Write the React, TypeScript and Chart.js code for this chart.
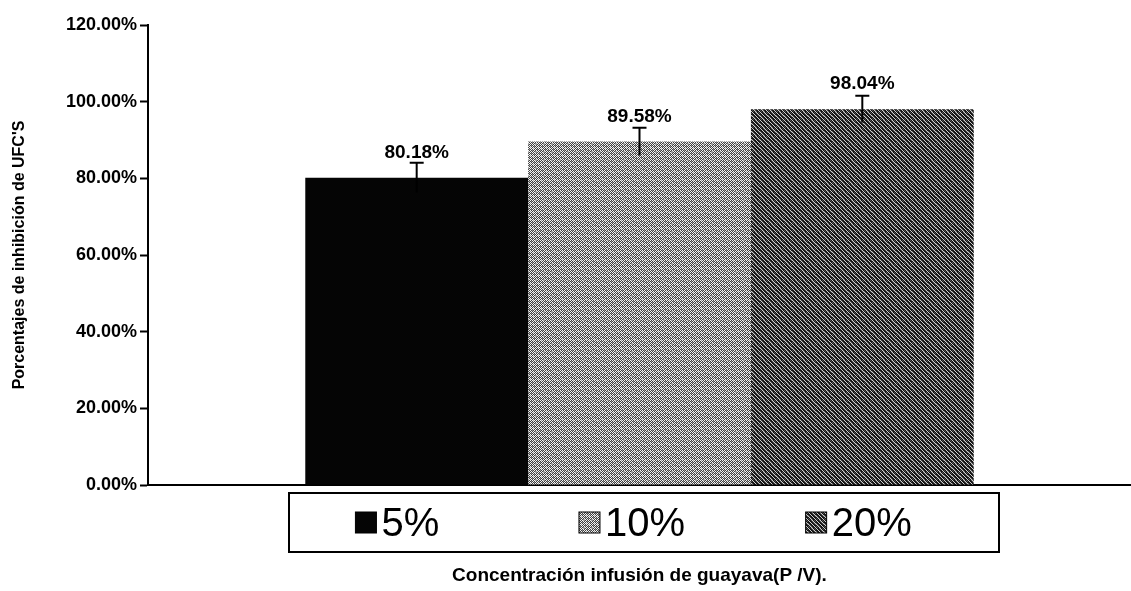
import React, { useEffect, useRef } from "react";
import { Chart, registerables } from "chart.js";

Chart.register(...registerables);

const seriesLabels = ["5%", "10%", "20%"];
const seriesValues = [80.18, 89.58, 98.04];
const seriesErrors = [3.9, 3.6, 3.5];
const yTicks = [0, 20, 40, 60, 80, 100, 120];
const xTitle = "Concentración infusión de guayava(P /V).";
const yTitle = "Porcentajes de inhibición de UFC'S";

const FONT = "'Liberation Sans', Arial, sans-serif";

function makePattern(kind: number): CanvasPattern | string {
  const tile = document.createElement("canvas");
  const n = 8;
  tile.width = n;
  tile.height = n;
  const c = tile.getContext("2d");
  if (!c) return "#888";
  if (kind === 0) {
    c.fillStyle = "#050505";
    c.fillRect(0, 0, n, n);
  } else if (kind === 1) {
    for (let y = 0; y < n; y++) {
      for (let x = 0; x < n; x++) {
        c.fillStyle = (x + y) % 2 === 0 ? "#f4f4f4" : "#404040";
        if ((x * 3 + y * 5) % 7 === 0) c.fillStyle = "#9a9a9a";
        c.fillRect(x, y, 1, 1);
      }
    }
  } else {
    for (let y = 0; y < n; y++) {
      for (let x = 0; x < n; x++) {
        const light = (x + y) % 2 === 0 && (x * 5 + y * 3) % 4 === 0;
        c.fillStyle = light ? "#cfcfcf" : (x + 2 * y) % 3 === 0 ? "#505050" : "#151515";
        c.fillRect(x, y, 1, 1);
      }
    }
  }
  const ctx2 = document.createElement("canvas").getContext("2d");
  const p = ctx2 ? ctx2.createPattern(tile, "repeat") : null;
  return p || "#888";
}

const overlayPlugin = {
  id: "overlay",
  afterDatasetsDraw(chart: any) {
    const { ctx, chartArea } = chart;
    const yScale = chart.scales.y;
    ctx.save();
    chart.data.datasets.forEach((ds: any, i: number) => {
      const meta = chart.getDatasetMeta(i);
      const bar = meta.data[0];
      if (!bar) return;
      const v = ds.data[0];
      const err = seriesErrors[i];
      const x = bar.x;
      const yTop = yScale.getPixelForValue(v + err);
      const yBot = yScale.getPixelForValue(v - err);
      ctx.strokeStyle = "#000";
      ctx.lineWidth = 2;
      ctx.beginPath();
      ctx.moveTo(x, yBot);
      ctx.lineTo(x, yTop);
      ctx.moveTo(x - 7, yTop);
      ctx.lineTo(x + 7, yTop);
      ctx.stroke();
      ctx.fillStyle = "#000";
      ctx.font = `bold 19px ${FONT}`;
      ctx.textAlign = "center";
      ctx.textBaseline = "middle";
      ctx.fillText(v.toFixed(2) + "%", x, bar.y - 25);
    });

    // legend box
    const left = chartArea.left + 141;
    const right = chartArea.left + 851;
    const top = chartArea.bottom + 8;
    const h = 59;
    ctx.lineWidth = 2;
    ctx.strokeStyle = "#000";
    ctx.fillStyle = "#fff";
    ctx.fillRect(left, top, right - left, h);
    ctx.strokeRect(left, top, right - left, h);
    const w = right - left;
    ctx.font = `40px ${FONT}`;
    ctx.textAlign = "left";
    ctx.textBaseline = "middle";
    const shifts = [-10, -12, -22];
    chart.data.datasets.forEach((ds: any, i: number) => {
      const cx = left + (w * (2 * i + 1)) / 6 + shifts[i];
      const tw = ctx.measureText(ds.label).width;
      const box = 21;
      const gap = 5;
      const total = box + gap + tw;
      const sx = cx - total / 2;
      const cy = top + h / 2;
      ctx.fillStyle = ds.backgroundColor;
      ctx.fillRect(sx, cy - box / 2, box, box);
      ctx.lineWidth = 1;
      ctx.strokeRect(sx, cy - box / 2, box, box);
      ctx.fillStyle = "#000";
      ctx.fillText(ds.label, sx + box + gap, cy + 2);
    });
    ctx.restore();
  },
};

export default function App() {
  const ref = useRef<HTMLCanvasElement | null>(null);
  useEffect(() => {
    if (!ref.current) return;
    const datasets = seriesLabels.map((label, i) => ({
      label,
      data: [seriesValues[i]],
      backgroundColor: makePattern(i) as any,
      borderWidth: 0,
      barPercentage: 1,
      categoryPercentage: 0.68,
    }));
    const chart = new Chart(ref.current, {
      type: "bar",
      data: { labels: [""], datasets },
      plugins: [overlayPlugin],
      options: {
        animation: false,
        responsive: true,
        maintainAspectRatio: false,
        layout: { padding: { left: 0, right: 0, top: 25, bottom: 0 } },
        plugins: { legend: { display: false }, tooltip: { enabled: false } },
        scales: {
          x: {
            type: "category",
            ticks: { display: false },
            grid: { display: false },
            border: { display: true, color: "#000", width: 2 },
            title: {
              display: true,
              text: xTitle,
              color: "#000",
              font: { family: FONT, size: 19, weight: "bold" },
              padding: { top: 0, bottom: 4 },
            },
            afterFit: (s: any) => {
              s.height = 106;
            },
          },
          y: {
            min: 0,
            max: 120,
            afterBuildTicks: (s: any) => {
              s.ticks = yTicks.map((v) => ({ value: v }));
            },
            ticks: {
              color: "#000",
              padding: 3,
              font: { family: FONT, size: 18, weight: "bold" },
              callback: (v: any) => Number(v).toFixed(2) + "%",
            },
            grid: {
              display: true,
              drawOnChartArea: false,
              drawTicks: true,
              tickLength: 8,
              tickColor: "#000",
              tickWidth: 2,
            },
            border: { display: true, color: "#000", width: 2 },
            title: {
              display: true,
              text: yTitle,
              color: "#000",
              font: { family: FONT, size: 16, weight: "bold" },
              padding: { top: 10, bottom: 0 },
            },
            afterFit: (s: any) => {
              s.width = 148;
            },
          },
        },
      },
    });
    return () => chart.destroy();
  }, []);
  return (
    <div style={{ position: "absolute", left: 0, top: 0, width: 1131, height: 591, background: "#fff" }}>
      <canvas ref={ref} />
    </div>
  );
}
